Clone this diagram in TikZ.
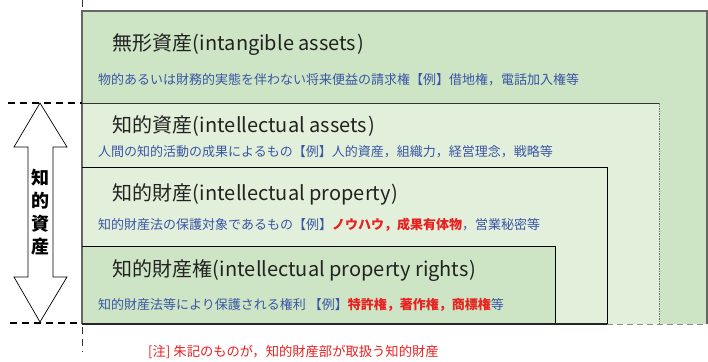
\documentclass[tikz,border=0pt]{standalone}
\usepackage{fontspec}
\setmainfont{Noto Sans CJK JP}
\definecolor{gA}{HTML}{CDE5C4}
\definecolor{gB}{HTML}{E2EFDA}
\definecolor{txtblue}{HTML}{3A56A6}
\definecolor{txtred}{HTML}{E8201F}
\definecolor{txtdark}{HTML}{222222}
\tikzset{
  titletext/.style={anchor=west,inner sep=0pt,text=txtdark,font=\fontsize{20}{24}\selectfont},
  subtext/.style={anchor=west,inner sep=0pt,text=txtblue,font=\fontsize{13}{16}\selectfont},
  guide/.style={black,line width=1.8pt,dash pattern=on 7pt off 5pt},
  boxedge/.style={line width=1pt},
}
\newcommand{\redb}[1]{\textcolor{txtred}{\bfseries #1}}
\begin{document}
\begin{tikzpicture}[x=1pt,y=-1pt]
\useasboundingbox (0,0) rectangle (708,361);
% boxes
\fill[gA] (82,11) rectangle (707,324);
\fill[gB] (82,103) rectangle (659,324);
\fill[gB] (82,167) rectangle (607,324);
\fill[gA] (82,246) rectangle (555,324);
% edges of intangible box
\draw[line width=1.4pt,draw=black!60] (82,324) -- (82,11) -- (707,11) -- (707,324);
\draw[boxedge,draw=black!45,dash pattern=on 6pt off 4pt] (607,324.5) -- (707,324.5);
% intellectual assets box
\draw[boxedge,draw=black!80] (82,103) -- (659,103);
\draw[boxedge,draw=black!55,dash pattern=on 1.5pt off 1pt] (659,103) -- (659,324);
% intellectual property box
\draw[boxedge,draw=black] (82,167) -- (607,167) -- (607,324);
% rights box
\draw[boxedge,draw=black] (82,246) -- (555,246) -- (555,324);
\draw[line width=1.6pt,black!85] (82,324) -- (607,324);
% left vertical guide
\draw[black!80,line width=1.4pt,dash pattern=on 7pt off 5pt] (82.5,0) -- (82.5,8);
\draw[black!80,line width=1.4pt,dash pattern=on 7pt off 5pt] (82.5,327) -- (82.5,352);
% horizontal guides
\coordinate (gt1) at (8,103);
\coordinate (gt2) at (82,103);
\coordinate (gb1) at (10,323);
\coordinate (gb2) at (82,323);
\draw[guide] (gt1) -- (gt2);
\draw[guide] (gb1) -- (gb2);
% double arrow
\draw[black,line width=0.7pt,fill=white]
  (40,103) -- (67,147) -- (53,147) -- (53,277) -- (67,277) -- (40,322)
  -- (14,277) -- (28,277) -- (28,147) -- (14,147) -- cycle;
\node[inner sep=0pt,align=center,font=\fontsize{18}{23}\selectfont\bfseries] (vlabel) at (40.5,212.5) {知\\的\\資\\産};
% texts
\node[titletext] (t1) at (112,45) {無形資産(\kern1pt intangible assets\kern1pt)};
\node[subtext] (s1) at (98,80) {物的あるいは財務的実態を伴わない将来便益の請求権【例】借地権，電話加入権等};
\node[titletext] (t2) at (112,126) {知的資産(\kern1pt intellectual assets\kern1pt)};
\node[subtext] (s2) at (98,152) {人間の知的活動の成果によるもの【例】人的資産，組織力，経営理念，戦略等};
\node[titletext] (t3) at (112,194) {知的財産(\kern1pt intellectual property\kern1pt)};
\node[subtext] (s3) at (98,225) {知的財産法の保護対象であるもの【例】\redb{ノウハウ，成果有体物}，営業秘密等};
\node[titletext] (t4) at (112,271) {知的財産権(\kern1pt intellectual property rights\kern1pt)};
\node[subtext] (s4) at (98,305) {知的財産法等により保護される権利 【例】\redb{特許権，著作権，商標権}等};
\node[subtext,text=txtred,font=\fontsize{13.3}{16}\selectfont] (note) at (148,352) {[注] 朱記のものが，知的財産部が取扱う知的財産};
\end{tikzpicture}
\end{document}
